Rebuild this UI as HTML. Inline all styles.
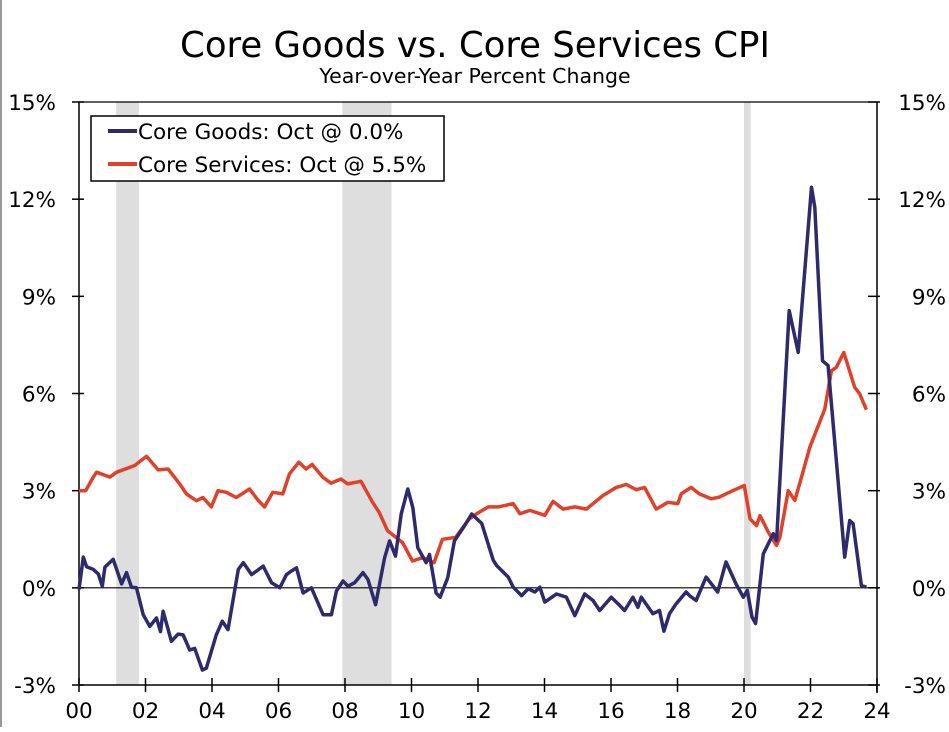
<!DOCTYPE html>
<html><head><meta charset="utf-8"><style>
body{margin:0;background:#fff;}
svg text{font-family:"DejaVu Sans","Liberation Sans",sans-serif;fill:#000;}
</style></head><body>
<svg id="chart" width="949" height="727">
<rect x="0" y="0" width="2" height="727" fill="#999"/>
<text x="475" y="57" text-anchor="middle" font-size="35.5">Core Goods vs. Core Services CPI</text>
<text x="475" y="83" text-anchor="middle" font-size="20.5">Year-over-Year Percent Change</text>
<g id="rec"></g><g id="axes"></g><g id="lines"></g>
<g>
<rect x="91" y="116" width="353" height="65" fill="#fff" stroke="#000" stroke-width="1.5"/>
<line x1="108" y1="131" x2="137" y2="131" stroke="#2e2a6b" stroke-width="4"/>
<text x="138" y="139" font-size="21.5">Core Goods: Oct @ 0.0%</text>
<line x1="108" y1="164" x2="137" y2="164" stroke="#e0412a" stroke-width="4"/>
<text x="138" y="172" font-size="21.5">Core Services: Oct @ 5.5%</text>
</g>
</svg>
<script>
const yTicks=[-3,0,3,6,9,12,15];
const yTickLabels=["-3%","0%","3%","6%","9%","12%","15%"];
const xTicks=[0,2,4,6,8,10,12,14,16,18,20,22,24];
const xTickLabels=["00","02","04","06","08","10","12","14","16","18","20","22","24"];
const recStart=[1.12,7.92,20.0];
const recEnd=[1.8,9.4,20.2];
const goodsYears=[0,.13,.23,.43,.58,.7,.78,1.03,1.28,1.43,1.58,1.73,1.93,2.13,2.33,2.45,2.53,2.78,2.98,3.13,3.33,3.48,3.71,3.83,4.13,4.31,4.48,4.79,4.94,5.19,5.34,5.54,5.79,6.04,6.24,6.39,6.54,6.74,6.99,7.34,7.59,7.74,7.94,8.09,8.29,8.54,8.69,8.92,9.19,9.34,9.52,9.69,9.89,10.04,10.19,10.44,10.54,10.74,10.86,11.09,11.29,11.59,11.81,12.11,12.46,12.56,12.91,13.06,13.31,13.51,13.71,13.86,14.01,14.36,14.66,14.91,15.21,15.46,15.66,16.01,16.21,16.41,16.66,16.81,16.91,17.26,17.46,17.59,17.76,17.96,18.26,18.36,18.56,18.86,19.21,19.46,19.76,19.98,20.1,20.24,20.35,20.58,20.88,20.98,21.36,21.63,22.03,22.13,22.36,22.53,23.03,23.18,23.28,23.53,23.68];
const goodsVals=[-.05,.95,.65,.57,.43,.05,.64,.88,.12,.47,.02,0,-.83,-1.19,-.93,-1.35,-.72,-1.65,-1.43,-1.45,-1.92,-1.87,-2.54,-2.48,-1.45,-1.03,-1.29,.57,.78,.41,.52,.67,.16,0,.41,.52,.62,-.16,0,-.83,-.83,-.1,.21,.05,.16,.47,.26,-.52,.93,1.45,.98,2.28,3.05,2.48,1.24,.78,1.03,-.16,-.29,.31,1.45,1.91,2.28,1.99,.85,.69,.33,.02,-.24,-.03,-.13,.02,-.44,-.19,-.29,-.86,-.19,-.39,-.7,-.29,-.49,-.7,-.29,-.6,-.29,-.8,-.7,-1.34,-.8,-.49,-.13,-.24,-.39,.33,-.13,.8,.12,-.29,-.08,-.9,-1.1,1.05,1.67,1.46,8.56,7.27,12.37,11.75,7.01,6.86,.95,2.08,1.98,.07,.02];
const servYears=[0,.2,.43,.53,.93,1.13,1.68,2.03,2.38,2.68,3.03,3.23,3.53,3.73,3.98,4.18,4.43,4.73,5.13,5.38,5.58,5.83,6.13,6.33,6.61,6.83,7.01,7.33,7.58,7.88,8.08,8.48,8.83,9.03,9.28,9.73,10.03,10.33,10.68,10.93,11.33,11.73,11.96,12.31,12.61,13.06,13.26,13.56,14.01,14.26,14.56,14.91,15.26,15.76,16.16,16.46,16.76,17.01,17.36,17.71,18.01,18.11,18.41,18.66,19.01,19.26,19.66,20.01,20.18,20.38,20.48,20.73,20.98,21.08,21.33,21.53,21.73,21.98,22.43,22.63,22.78,23.0,23.33,23.48,23.68];
const servVals=[3.0,3.0,3.42,3.57,3.42,3.57,3.78,4.06,3.64,3.67,3.21,2.9,2.69,2.79,2.5,3.0,2.95,2.79,3.05,2.71,2.5,2.95,2.9,3.52,3.88,3.67,3.81,3.42,3.23,3.36,3.21,3.29,2.64,2.33,1.76,1.4,.83,.93,.78,1.5,1.56,2.12,2.29,2.5,2.5,2.6,2.29,2.39,2.24,2.67,2.43,2.5,2.43,2.85,3.1,3.19,3.03,3.1,2.43,2.64,2.6,2.9,3.1,2.9,2.75,2.8,3.0,3.16,2.13,1.92,2.23,1.72,1.31,1.56,3.0,2.7,3.42,4.34,5.52,6.7,6.81,7.27,6.19,5.99,5.5];

const L=79,R=877,T=102,B=685;
const X=yr=>L+yr/24*(R-L);
const Y=v=>B-(v+3)/18*(B-T);
const NS="http://www.w3.org/2000/svg";
function mk(tag,attrs,parent){const e=document.createElementNS(NS,tag);for(const k in attrs)e.setAttribute(k,attrs[k]);document.getElementById(parent).appendChild(e);return e;}
recStart.forEach((s,i)=>{
  const r=mk('rect',{x:X(s),y:T,width:X(recEnd[i])-X(s),height:B-T,fill:'#dedede'},'rec');
  
  
});
let a=mk('line',{x1:L,y1:T,x2:L,y2:B,stroke:'#000','stroke-width':1.5},'axes');


a=mk('line',{x1:R,y1:T,x2:R,y2:B+8,stroke:'#000','stroke-width':1.5},'axes');


a=mk('line',{x1:L,y1:B,x2:R,y2:B,stroke:'#000','stroke-width':1.5},'axes');


a=mk('line',{x1:L,y1:T,x2:R,y2:T,stroke:'#000','stroke-width':1.2},'axes');


a=mk('line',{x1:L,y1:Y(0),x2:R,y2:Y(0),stroke:'#000','stroke-width':1.2},'axes');


yTicks.forEach((v,i)=>{
  mk('line',{x1:L-7,y1:Y(v),x2:L+5,y2:Y(v),stroke:'#000','stroke-width':1.5},'axes');
  mk('line',{x1:R-9,y1:Y(v),x2:R+3,y2:Y(v),stroke:'#000','stroke-width':1.5},'axes');
  const t=mk('text',{x:56,y:Y(v)+8,'text-anchor':'end','font-size':21.5},'axes');t.textContent=yTickLabels[i];
  
  
  const t2=mk('text',{x:946,y:Y(v)+8,'text-anchor':'end','font-size':21.5},'axes');t2.textContent=yTickLabels[i];
  
  
});
xTicks.forEach((v,i)=>{
  mk('line',{x1:X(v),y1:B-7,x2:X(v),y2:B+7,stroke:'#000','stroke-width':1.5},'axes');
  const t=mk('text',{x:X(v),y:B+33,'text-anchor':'middle','font-size':21.5},'axes');t.textContent=xTickLabels[i];
  
  
});
function line(xs,vs,color,name){
  const d=xs.map((x,i)=>(i?'L':'M')+X(x).toFixed(1)+','+Y(vs[i]).toFixed(1)).join('');
  const p=mk('path',{d:d,fill:'none',stroke:color,'stroke-width':3.5,'stroke-linejoin':'round'},'lines');
  
  
}
line(servYears,servVals,'#e0412a','core-services-line');
line(goodsYears,goodsVals,'#2e2a6b','core-goods-line');
</script>
</body></html>
